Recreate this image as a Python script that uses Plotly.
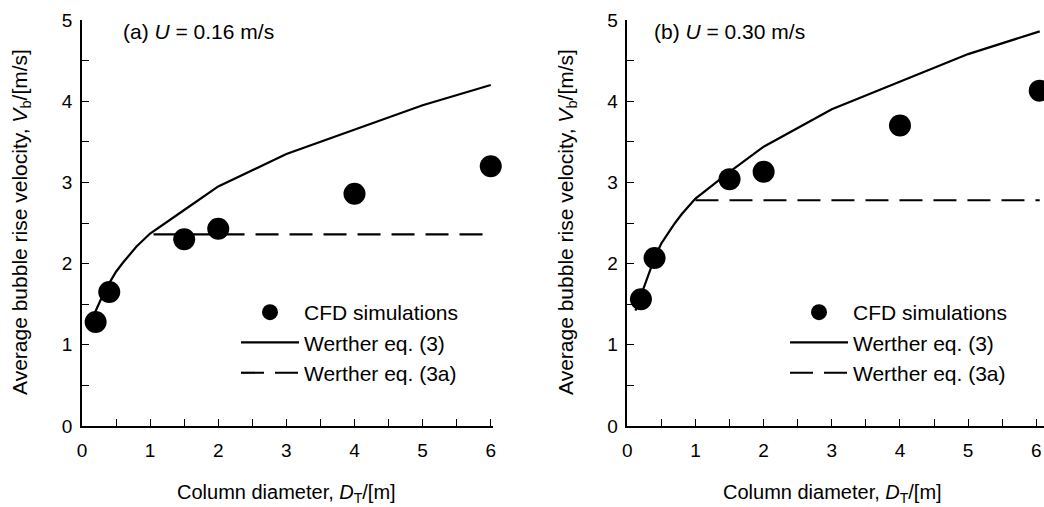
import plotly.graph_objects as go

# ---------------- data ----------------
# Panel (a): U = 0.16 m/s
cfd_a_x = [0.2, 0.4, 1.5, 2.0, 4.0, 6.0]
cfd_a_y = [1.28, 1.65, 2.30, 2.43, 2.86, 3.20]
eq3_a_x = [0.18, 0.3, 0.4, 0.5, 0.6, 0.7, 0.8, 0.9, 1.0, 1.5, 2.0, 3.0, 4.0, 5.0, 6.0]
eq3_a_y = [1.38, 1.60, 1.76, 1.90, 2.01, 2.11, 2.21, 2.29, 2.37, 2.66, 2.95, 3.35, 3.65, 3.95, 4.20]
eq3a_a_x = [1.05, 6.0]
eq3a_a_y = [2.36, 2.36]

# Panel (b): U = 0.30 m/s
cfd_b_x = [0.2, 0.4, 1.5, 2.0, 4.0, 6.05]
cfd_b_y = [1.56, 2.07, 3.04, 3.13, 3.70, 4.13]
eq3_b_x = [0.12, 0.2, 0.3, 0.4, 0.5, 0.6, 0.7, 0.8, 0.9, 1.0, 1.5, 2.0, 3.0, 4.0, 5.0, 6.05]
eq3_b_y = [1.42, 1.60, 1.85, 2.07, 2.25, 2.38, 2.50, 2.61, 2.71, 2.80, 3.13, 3.44, 3.90, 4.24, 4.58, 4.86]
eq3a_b_x = [1.0, 6.05]
eq3a_b_y = [2.78, 2.78]

x_ticks = [0, 1, 2, 3, 4, 5, 6]
y_ticks = [0, 1, 2, 3, 4, 5]

legend_names = ["CFD simulations", "Werther eq. (3)", "Werther eq. (3a)"]
panel_titles = ["(a) <i>U</i> = 0.16 m/s", "(b) <i>U</i> = 0.30 m/s"]
x_title = "Column diameter, <i>D</i><sub>T</sub>/[m]"
y_title = "Average bubble rise velocity, <i>V</i><sub>b</sub>/[m/s]"

FONT = "Liberation Sans, Arial, Helvetica, sans-serif"
W, H = 1044, 507

fig = go.Figure()

panels = [
    dict(cx=cfd_a_x, cy=cfd_a_y, sx=eq3_a_x, sy=eq3_a_y, dx=eq3a_a_x, dy=eq3a_a_y,
         xa="x", ya="y", leg="legend"),
    dict(cx=cfd_b_x, cy=cfd_b_y, sx=eq3_b_x, sy=eq3_b_y, dx=eq3a_b_x, dy=eq3a_b_y,
         xa="x2", ya="y2", leg="legend2"),
]

for p in panels:
    fig.add_trace(go.Scatter(x=p["sx"], y=p["sy"], mode="lines", name=legend_names[1],
                             line=dict(color="black", width=2.2), xaxis=p["xa"], yaxis=p["ya"],
                             legend=p["leg"], legendrank=2))
    fig.add_trace(go.Scatter(x=p["dx"], y=p["dy"], mode="lines", name=legend_names[2],
                             line=dict(color="black", width=2.2, dash="23px,11px"),
                             xaxis=p["xa"], yaxis=p["ya"], legend=p["leg"], legendrank=3))
    fig.add_trace(go.Scatter(x=p["cx"], y=p["cy"], mode="markers", name=legend_names[0],
                             marker=dict(color="black", size=22), cliponaxis=False,
                             xaxis=p["xa"], yaxis=p["ya"], legend=p["leg"], legendrank=1))

ydom = [(H - 426) / H, (H - 20) / H]

axis_common = dict(
    showline=True, linecolor="black", linewidth=1.5, showgrid=False, zeroline=False,
    ticks="inside", ticklen=7, tickwidth=1.2, tickcolor="black",
    tickfont=dict(family=FONT, size=19, color="black"),
    minor=dict(ticks="inside", dtick=0.5, ticklen=7, tickwidth=1.2, tickcolor="black"),
    mirror=False, automargin=False,
)

fig.update_layout(
    width=W, height=H,
    margin=dict(l=0, r=0, t=0, b=0, autoexpand=False),
    paper_bgcolor="white", plot_bgcolor="white",
    font=dict(family=FONT, size=18, color="black"),
    xaxis=dict(domain=[82 / W, 492.8 / W], range=[0, 6.03], tickvals=x_ticks,
               anchor="y", ticklabelstandoff=6, **axis_common),
    yaxis=dict(domain=ydom, range=[0, 5], tickvals=y_ticks, anchor="x",
               ticklabelstandoff=4, **axis_common),
    xaxis2=dict(domain=[627.3 / W, 1.0], range=[0, (W - 627.3) / 68.17], tickvals=x_ticks,
                anchor="y2", ticklabelstandoff=6, **axis_common),
    yaxis2=dict(domain=ydom, range=[0, 5], tickvals=y_ticks, anchor="x2",
                ticklabelstandoff=4, **axis_common),
    legend=dict(x=236 / W, y=(H - 292) / H, xanchor="left", yanchor="top",
                bgcolor="rgba(0,0,0,0)", itemwidth=58,
                font=dict(family=FONT, size=21, color="black")),
    legend2=dict(x=785 / W, y=(H - 292) / H, xanchor="left", yanchor="top",
                 bgcolor="rgba(0,0,0,0)", itemwidth=58,
                 font=dict(family=FONT, size=21, color="black")),
    showlegend=True,
)

annotations = []
# panel titles
for txt, x0 in zip(panel_titles, [121, 652]):
    annotations.append(dict(text=txt, x=x0 / W, y=(H - 32) / H, xref="paper", yref="paper",
                            xanchor="left", yanchor="middle", showarrow=False,
                            font=dict(family=FONT, size=21, color="black")))
# x titles
for cx in [286, 832]:
    annotations.append(dict(text=x_title, x=cx / W, y=(H - 493) / H, xref="paper", yref="paper",
                            xanchor="center", yanchor="middle", showarrow=False,
                            font=dict(family=FONT, size=20, color="black")))
# y titles
for cx in [21, 567]:
    annotations.append(dict(text=y_title, x=cx / W, y=(H - 222) / H, xref="paper", yref="paper",
                            xanchor="center", yanchor="middle", showarrow=False, textangle=-90,
                            font=dict(family=FONT, size=21, color="black")))
fig.update_layout(annotations=annotations)

fig.write_html(
    "out.html",
    config={"displayModeBar": False},
    post_script="document.body.style.margin='0';document.body.style.overflow='hidden';",
)
